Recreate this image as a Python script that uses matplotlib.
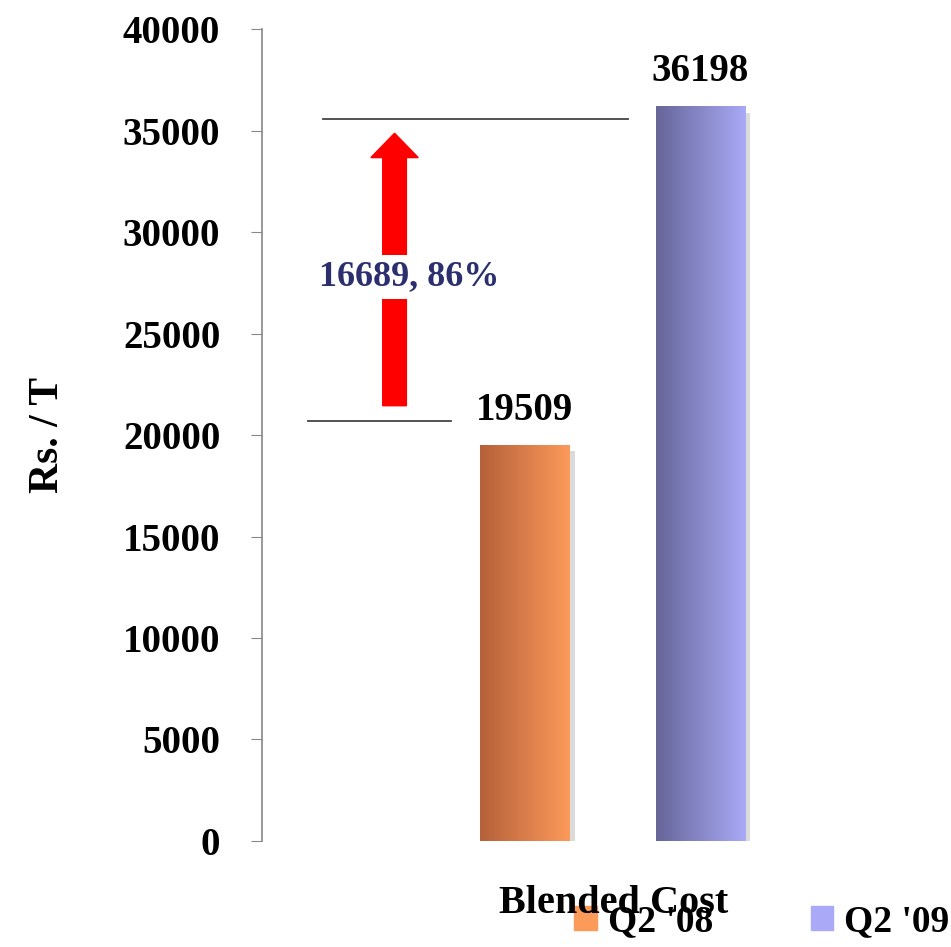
import numpy as np
import matplotlib.pyplot as plt
from matplotlib.patches import FancyArrow

# data
category = 'Blended Cost'
series = ["Q2 '08", "Q2 '09"]
values = [19509, 36198]
change_text = '16689, 86%'
ref_low = 20700
ref_high = 35600

colors_dark = ['#b5603a', '#666699']
colors_light = ['#fc9a5a', '#a9a9f7']

plt.rcParams['font.family'] = ['Liberation Serif', 'DejaVu Serif']
plt.rcParams['font.weight'] = 'bold'

fig = plt.figure(figsize=(9.51, 9.47), dpi=100)
ax = fig.add_axes([0.2755, 0.112, 0.7245, 0.857])

xpos = [-0.5, 0.5]
width = 0.51
bars = ax.bar(xpos, values, width=width, color=colors_light, label=series, zorder=2)

# shadow + horizontal gradient on each bar
for b, c0, c1 in zip(bars, colors_dark, colors_light):
    x0 = b.get_x()
    h = b.get_height()
    ax.bar(x0 + width / 2 + 0.03, h, width=width, bottom=-300, color='#999999',
           alpha=0.35, zorder=1)
    grad = np.linspace(0, 1, 256).reshape(1, -1)
    cmap = plt.matplotlib.colors.LinearSegmentedColormap.from_list('g', [c0, c1])
    im = ax.imshow(grad, cmap=cmap, extent=[x0, x0 + width, 0, h],
                   aspect='auto', zorder=3)
    im.set_clip_path(b)

for x, v in zip(xpos, values):
    ax.text(x, v + 800, str(v), ha='center', va='bottom', fontsize=28,
            fontweight='bold', color='black', zorder=5)

# reference lines and arrow
ax.plot([-1.74, -0.92], [ref_low, ref_low], color='#444444', lw=1.3, zorder=4)
ax.plot([-1.65, 0.085], [ref_high, ref_high], color='#444444', lw=1.3, zorder=4)
ax.add_patch(FancyArrow(-1.244, 21450, 0, 34880 - 21450, width=0.135,
                        head_width=0.27, head_length=1200,
                        length_includes_head=True, color='#ff0000', zorder=4))
ax.text(-1.16, 27800, change_text, ha='center', va='center', fontsize=26,
        fontweight='bold', color='#2b2f6e', zorder=6,
        bbox=dict(facecolor='white', edgecolor='none', pad=4))

ax.set_xlim(-2, 1.93)
ax.set_ylim(0, 40000)
ax.set_yticks(range(0, 40001, 5000))
ax.tick_params(axis='y', labelsize=28, length=8, color='#888888', pad=22)
for t in ax.get_yticklabels():
    t.set_fontweight('bold')
ax.set_xticks([])
for s in ['top', 'right', 'bottom']:
    ax.spines[s].set_visible(False)
ax.spines['left'].set_color('#888888')
ax.spines['left'].set_linewidth(1.2)

ax.set_ylabel('Rs. / T', fontsize=30, fontweight='bold', labelpad=40)
fig.text(614 / 951, 1 - 903 / 947, category, ha='center', va='center',
         fontsize=29, fontweight='bold')

# legend overlaps the category label, as in the original
leg = ax.legend(loc='center left', bbox_to_anchor=(0.453, -0.1), ncol=2,
                frameon=False, fontsize=27, handlelength=0.6, handleheight=0.6,
                columnspacing=2.6, handletextpad=0.3, borderpad=0,
                borderaxespad=0)
for h, c in zip(leg.legend_handles, colors_light):
    h.set_color(c)

fig.savefig('out.png', dpi=100)
